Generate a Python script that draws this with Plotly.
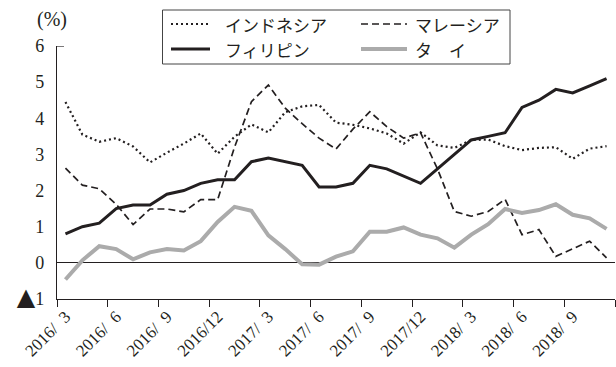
import plotly.graph_objects as go

# Monthly year-on-year consumer price inflation, 2016/3 - 2018/11
months = [
    "2016/3", "2016/4", "2016/5", "2016/6", "2016/7", "2016/8", "2016/9", "2016/10",
    "2016/11", "2016/12", "2017/1", "2017/2", "2017/3", "2017/4", "2017/5", "2017/6",
    "2017/7", "2017/8", "2017/9", "2017/10", "2017/11", "2017/12", "2018/1", "2018/2",
    "2018/3", "2018/4", "2018/5", "2018/6", "2018/7", "2018/8", "2018/9", "2018/10",
    "2018/11",
]

indonesia = [4.45, 3.55, 3.35, 3.45, 3.22, 2.78, 3.05, 3.30, 3.58, 3.02, 3.49,
             3.83, 3.61, 4.17, 4.33, 4.37, 3.88, 3.82, 3.72, 3.58, 3.30, 3.61,
             3.25, 3.18, 3.40, 3.41, 3.23, 3.12, 3.18, 3.20, 2.88, 3.16, 3.23]
malaysia = [2.62, 2.15, 2.05, 1.62, 1.06, 1.49, 1.49, 1.41, 1.75, 1.75, 3.20,
            4.46, 4.92, 4.28, 3.85, 3.45, 3.15, 3.70, 4.18, 3.77, 3.45, 3.60,
            2.60, 1.42, 1.29, 1.42, 1.76, 0.78, 0.92, 0.18, 0.39, 0.60, 0.14]
philippines = [0.80, 1.00, 1.10, 1.50, 1.60, 1.60, 1.90, 2.00, 2.20, 2.30, 2.30,
               2.80, 2.90, 2.80, 2.70, 2.10, 2.10, 2.20, 2.70, 2.60, 2.40, 2.20,
               2.60, 3.00, 3.40, 3.50, 3.60, 4.30, 4.50, 4.80, 4.70, 4.90, 5.10]
thailand = [-0.46, 0.07, 0.46, 0.38, 0.10, 0.29, 0.38, 0.34, 0.60, 1.13, 1.55,
            1.44, 0.76, 0.38, -0.04, -0.05, 0.17, 0.32, 0.86, 0.86, 0.98, 0.78,
            0.68, 0.42, 0.78, 1.07, 1.49, 1.38, 1.46, 1.62, 1.33, 1.23, 0.94]

tick_months = ["2016/3", "2016/6", "2016/9", "2016/12", "2017/3", "2017/6",
               "2017/9", "2017/12", "2018/3", "2018/6", "2018/9"]
tick_labels = ["2016/\u20073", "2016/\u20076", "2016/\u20079", "2016/12",
               "2017/\u20073", "2017/\u20076", "2017/\u20079", "2017/12",
               "2018/\u20073", "2018/\u20076", "2018/\u20079"]

y_vals = [-1, 0, 1, 2, 3, 4, 5, 6]
y_labels = ["<span style='font-family:DejaVu Sans;font-size:24px'>▲</span>1",
            "0", "1", "2", "3", "4", "5", "6"]

INK = "#231f20"
GREY = "#ababab"
SERIF = "Liberation Serif"
JP = "Noto Sans CJK JP"

series = [
    ("インドネシア", indonesia, dict(color=INK, width=2.2, dash="2px,3px")),
    ("マレーシア", malaysia, dict(color=INK, width=1.7, dash="7px,4px")),
    ("フィリピン", philippines, dict(color=INK, width=3)),
    ("タ\u3000イ", thailand, dict(color=GREY, width=4)),
]

x_idx = list(range(len(months)))

W, H = 616, 367
L, R, T, B = 57, 1, 46, 68
PW, PH = W - L - R, H - T - B


def px_x(px):
    return (px - L) / PW


def px_y(py):
    return (H - B - py) / PH


fig = go.Figure()
for name, vals, line in series:
    fig.add_trace(go.Scatter(x=x_idx, y=vals, mode="lines", name=name,
                             line=line, showlegend=False))

# legend frame with two columns of sample lines and labels
shapes = [
    dict(type="rect", xref="paper", yref="paper",
         x0=px_x(162.5), x1=px_x(510), y0=px_y(64), y1=px_y(10),
         line=dict(color="#444", width=1), fillcolor="white", layer="above"),
    # small cap at the top of the value axis
    dict(type="line", xref="paper", yref="y", x0=0, x1=px_x(L + 7),
         y0=6, y1=6, line=dict(color=INK, width=1.2)),
]
annotations = []
slots = [(171, 210, 223, 24), (361, 407, 413, 24),
         (171, 210, 223, 49), (361, 407, 413, 49)]
for (name, _, line), (sx0, sx1, tx, ty) in zip(series, slots):
    shapes.append(dict(type="line", xref="paper", yref="paper",
                       x0=px_x(sx0), x1=px_x(sx1), y0=px_y(ty), y1=px_y(ty),
                       line=line, layer="above"))
    annotations.append(dict(xref="paper", yref="paper", x=px_x(tx), y=px_y(ty),
                            text=name, showarrow=False, xanchor="left",
                            yanchor="middle",
                            font=dict(family=JP, size=17, color=INK)))

annotations.append(dict(xref="paper", yref="paper", x=px_x(35), y=px_y(20),
                        text="(%)", showarrow=False, xanchor="left",
                        yanchor="middle",
                        font=dict(family=SERIF, size=20, color=INK)))

fig.update_layout(
    width=W, height=H,
    margin=dict(l=L, r=R, t=T, b=B),
    paper_bgcolor="white", plot_bgcolor="white",
    shapes=shapes, annotations=annotations,
    showlegend=False,
)

fig.update_xaxes(
    range=[-0.5, len(months) - 0.5],
    tickmode="array",
    tickvals=[months.index(m) for m in tick_months],
    ticktext=tick_labels,
    tickangle=-45,
    ticks="",
    showgrid=False, zeroline=False,
    showline=True, linecolor=INK, linewidth=1.2,
    tickfont=dict(family=SERIF, size=17, color=INK),
    minor=dict(tickmode="array",
               tickvals=[months.index(m) - 0.5 for m in tick_months] + [len(months) - 0.5],
               ticks="outside", ticklen=7, tickwidth=1.2, tickcolor=INK,
               showgrid=False),
)
fig.update_yaxes(
    range=[-1, 6],
    tickmode="array", tickvals=y_vals, ticktext=y_labels,
    ticks="", showgrid=False,
    zeroline=True, zerolinecolor=INK, zerolinewidth=1.2,
    showline=True, linecolor=INK, linewidth=1.2,
    ticklabelstandoff=8,
    tickfont=dict(family=SERIF, size=18, color=INK),
)

fig.write_html("out.html")
